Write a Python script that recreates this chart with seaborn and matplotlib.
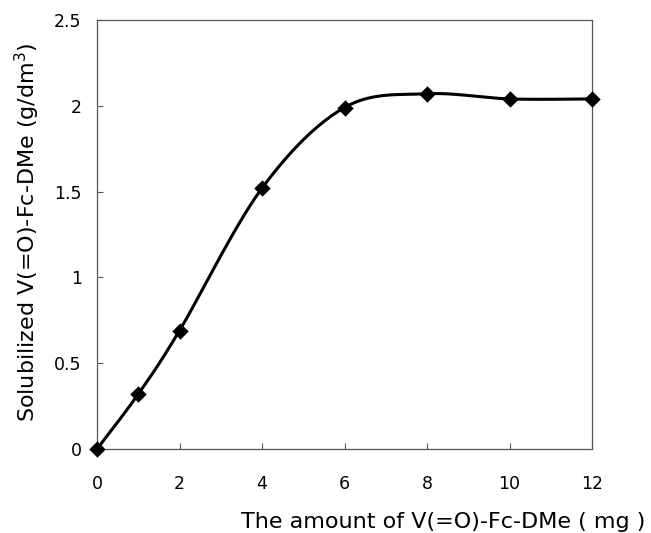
"""
Solubilized V(=O)-Fc-DMe versus amount added
"""

import numpy as np
import pandas as pd
import matplotlib
matplotlib.use('Agg')
import matplotlib.pyplot as plt
import seaborn as sns

sns.set_style("white")
plt.rcParams['font.family'] = ['DejaVu Sans']
plt.rcParams['text.color'] = 'black'
plt.rcParams['axes.labelcolor'] = 'black'
plt.rcParams['xtick.color'] = 'black'
plt.rcParams['ytick.color'] = 'black'

# data
amount_mg = [0, 1, 2, 4, 6, 8, 10, 12]
solubilized = [0.0, 0.32, 0.69, 1.52, 1.99, 2.07, 2.04, 2.04]
x_ticks = [0, 2, 4, 6, 8, 10, 12]
y_ticks = [0, 0.5, 1, 1.5, 2, 2.5]
y_tick_labels = ['0', '0.5', '1', '1.5', '2', '2.5']


def smooth_curve(x, y, n=40):
    """Excel-style smoothed line (Bezier segments through the points)"""
    p = np.column_stack([x, y]).astype(float)
    ext = np.vstack([p[0], p, p[-1]])
    out = []
    t = np.linspace(0, 1, n)[:, None]
    for i in range(len(p) - 1):
        p0, p3 = ext[i + 1], ext[i + 2]
        c1 = p0 + (ext[i + 2] - ext[i]) / 6
        c2 = p3 - (ext[i + 3] - ext[i + 1]) / 6
        seg = ((1 - t) ** 3) * p0 + 3 * ((1 - t) ** 2) * t * c1 \
            + 3 * (1 - t) * t ** 2 * c2 + t ** 3 * p3
        out.append(seg if i == 0 else seg[1:])
    return np.vstack(out)


def main():
    df = pd.DataFrame({'amount': amount_mg, 'sol': solubilized})
    curve = smooth_curve(df['amount'], df['sol'])
    curve_df = pd.DataFrame({'amount': curve[:, 0], 'sol': curve[:, 1]})

    fig = plt.figure(figsize=(6.51, 5.33), dpi=100)
    ax = fig.add_axes([97 / 651, 1 - 449 / 533, 495 / 651, 429 / 533])

    sns.lineplot(data=curve_df, x='amount', y='sol', sort=False, color='black',
                 linewidth=2.2, ax=ax, estimator=None)
    sns.scatterplot(data=df, x='amount', y='sol', marker='D', color='black',
                    s=70, edgecolor='black', linewidth=0, ax=ax, zorder=5,
                    clip_on=False)

    ax.set_xlim(0, 12)
    ax.set_ylim(0, 2.5)
    ax.set_xticks(x_ticks)
    ax.set_yticks(y_ticks)
    ax.set_yticklabels(y_tick_labels)
    ax.tick_params(axis='both', direction='in', length=4, width=0.8,
                   color='#555555', labelsize=12.5, bottom=True, left=True)
    ax.tick_params(axis='x', pad=19)
    ax.tick_params(axis='y', pad=11)

    for spine in ax.spines.values():
        spine.set_color('#555555')
        spine.set_linewidth(0.9)

    ax.set_ylabel('Solubilized V(=O)-Fc-DMe (g/dm$^3$)', fontsize=16)
    ax.yaxis.set_label_coords(-0.111, 0.505)
    ax.set_xlabel('The amount of V(=O)-Fc-DMe ( mg )', fontsize=16, ha='right')
    ax.xaxis.set_label_coords(1.107, -0.147)

    fig.savefig('out.png', dpi=100)
    plt.close(fig)


if __name__ == "__main__":
    main()
